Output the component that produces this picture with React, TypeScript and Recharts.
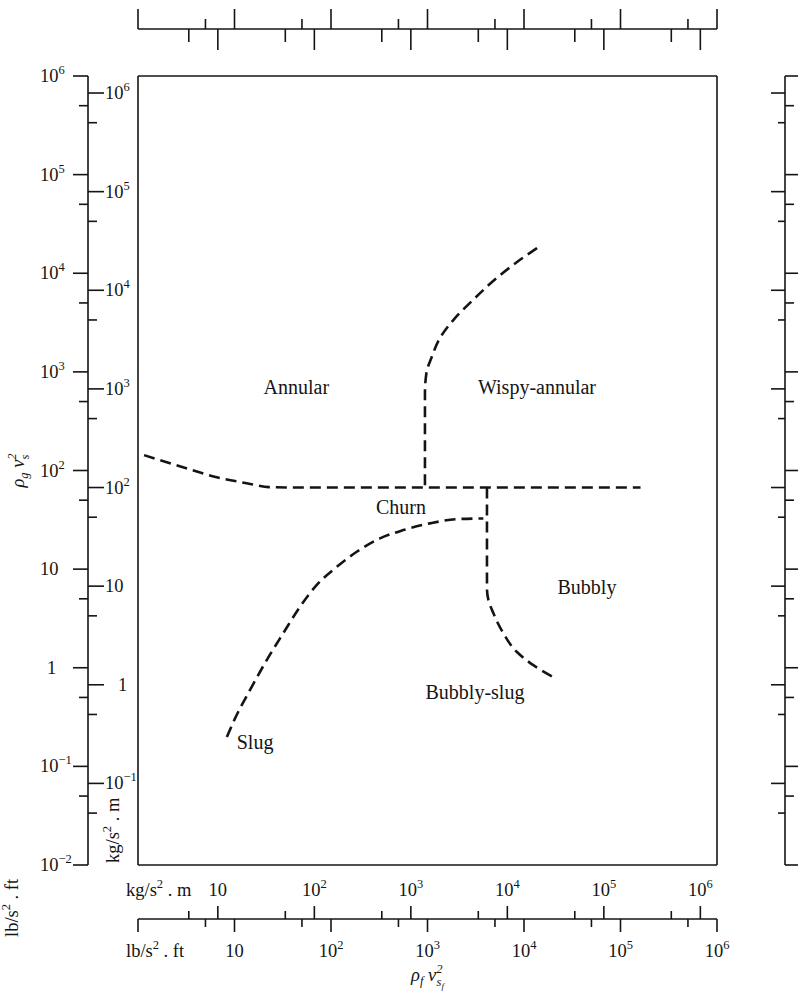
import React from 'react';
import { ComposedChart, Line, Scatter, XAxis, YAxis } from 'recharts';

// 1 lb/s².ft expressed in kg/s².m
const LB = 1.488;

const xDecades = [0, 1, 2, 3, 4, 5, 6];
const yDecades = [-2, -1, 0, 1, 2, 3, 4, 5, 6];

// flow regime boundaries, all in kg/s².m
const annularX = [1.72, 3.7, 9.5, 20.5, 34, 60, 240000];
const annularY = [213, 169, 128, 110, 101, 100, 100];

const wispyX = [20300, 12200, 7330, 4400, 2870, 2040, 1650, 1450, 1400, 1400];
const wispyY = [26800, 18900, 12700, 7960, 5230, 3380, 2120, 1450, 900, 100];

const slugX = [12.4, 15.1, 21.5, 32.1, 47.7, 71, 106, 171, 275, 479, 835, 1580, 2990, 5640];
const slugY = [0.296, 0.458, 0.883, 1.78, 3.34, 6.17, 10.3, 15.7, 22.3, 30.5, 37, 43.3, 47.8, 48.6];

const bubblyX = [6150, 6150, 6350, 7160, 9080, 12500, 18600, 31200];
const bubblyY = [100, 9.5, 7.3, 5.33, 3.34, 2.16, 1.58, 1.17];

const regionNames = ['Annular', 'Wispy-annular', 'Churn', 'Bubbly', 'Bubbly-slug', 'Slug'];
const regionX = [65, 20300, 790, 66900, 4620, 24.3];
const regionY = [1040, 1040, 63, 9.8, 0.84, 0.262];

const zip = (xs: number[], ys: number[]) => xs.map((x, i) => ({ x, y: ys[i] }));
const annular = zip(annularX, annularY);
const wispy = zip(wispyX, wispyY);
const slug = zip(slugX, slugY);
const bubbly = zip(bubblyX, bubblyY);
const regions = regionNames.map((name, i) => ({ name, x: regionX[i], y: regionY[i] }));

const X_DOMAIN: [number, number] = [LB * 10 ** xDecades[0], LB * 10 ** xDecades[xDecades.length - 1]];
const Y_DOMAIN: [number, number] = [LB * 10 ** yDecades[0], LB * 10 ** yDecades[yDecades.length - 1]];

const inside = (d: [number, number]) => (v: number) => v >= d[0] * 0.9999 && v <= d[1] * 1.0001;
const allTicks = (decades: number[], d: [number, number]) =>
  decades
    .flatMap((e) => [10 ** e, 5 * 10 ** e, LB * 10 ** e, 5 * LB * 10 ** e])
    .filter(inside(d))
    .sort((a, b) => a - b);

const xTicks = allTicks(xDecades, X_DOMAIN);
const yTicks = allTicks(yDecades, Y_DOMAIN);

const INK = '#141414';
const FONT = '"Liberation Serif", "Times New Roman", serif';
const AXIS = { stroke: INK, strokeWidth: 1.6 };

// which scale a tick belongs to (kg or lb), and whether it is a decade
const kindOf = (v: number) => {
  const l = Math.log10(v);
  const f = l - Math.floor(l + 1e-6);
  if (Math.abs(f) < 0.05) return { kg: true, major: true, exp: Math.round(l) };
  if (Math.abs(f - Math.log10(LB)) < 0.05) return { kg: false, major: true, exp: Math.round(l - Math.log10(LB)) };
  if (Math.abs(f - Math.log10(5)) < 0.05) return { kg: true, major: false, exp: 0 };
  return { kg: false, major: false, exp: 0 };
};

const Pow = ({ e }: { e: number }) => {
  if (e === 0) return <tspan>1</tspan>;
  if (e === 1) return <tspan>10</tspan>;
  return (
    <>
      <tspan>10</tspan>
      <tspan dy={-8} fontSize={12.5}>
        {e < 0 ? `\u2212${-e}` : e}
      </tspan>
    </>
  );
};

const txt = { fill: INK, fontFamily: FONT, fontSize: 18.5 };
const ln = { stroke: INK, strokeWidth: 1.6 };

const LeftTick = ({ x, y, payload }: any) => {
  const t = kindOf(payload.value);
  if (!t.kg) {
    return (
      <g>
        <line x1={x - (t.major ? 15 : 9)} x2={x} y1={y} y2={y} {...ln} />
        {t.major && (
          <text x={x - (t.exp === 0 ? 41 : 48)} y={y + 6} {...txt}>
            <Pow e={t.exp} />
          </text>
        )}
      </g>
    );
  }
  return (
    <g>
      <line x1={x} x2={x + (t.major ? 16 : 9)} y1={y} y2={y} {...ln} />
      {t.major && (
        <text x={x + (t.exp === 0 ? 30 : 17)} y={y + 6} {...txt}>
          <Pow e={t.exp} />
        </text>
      )}
    </g>
  );
};

const RightTick = ({ x, y, payload }: any) => {
  const t = kindOf(payload.value);
  return t.kg ? (
    <line x1={x - (t.major ? 14 : 7)} x2={x} y1={y} y2={y} {...ln} />
  ) : (
    <line x1={x} x2={x + (t.major ? 13 : 9)} y1={y} y2={y} {...ln} />
  );
};

const TopTick = ({ x, y, payload }: any) => {
  const t = kindOf(payload.value);
  return t.kg ? (
    <line x1={x} x2={x} y1={y} y2={y + (t.major ? 21 : 13)} {...ln} />
  ) : (
    <line x1={x} x2={x} y1={y - (t.major ? 20 : 10)} y2={y} {...ln} />
  );
};

const BottomTick = ({ x, y, payload }: any) => {
  const t = kindOf(payload.value);
  if (t.kg) {
    return (
      <g>
        <line x1={x} x2={x} y1={y - (t.major ? 13 : 8)} y2={y} {...ln} />
        {t.major && (
          <text x={x} y={y - 23} textAnchor="middle" {...txt}>
            <Pow e={t.exp} />
          </text>
        )}
      </g>
    );
  }
  return (
    <g>
      <line x1={x} x2={x} y1={y} y2={y + (t.major ? 13 : 8)} {...ln} />
      {t.major && t.exp > 0 && (
        <text x={x} y={y + 38} textAnchor="middle" {...txt}>
          <Pow e={t.exp} />
        </text>
      )}
    </g>
  );
};

const BottomTitles = (props: any) => {
  const vb = props.viewBox ?? { x: 138, y: 919, width: 579, height: 78 };
  return (
    <g>
      <text x={vb.x - 12} y={vb.y - 23} {...txt}>
        kg/s<tspan dy={-8} fontSize={12.5}>2</tspan>
        <tspan dy={8}> . m</tspan>
      </text>
      <text x={vb.x - 12} y={vb.y + 38} {...txt}>
        lb/s<tspan dy={-8} fontSize={12.5}>2</tspan>
        <tspan dy={8}> . ft</tspan>
      </text>
      <text x={vb.x + vb.width / 2} y={vb.y + 62} textAnchor="middle" {...txt} fontStyle="italic">
        ρ<tspan dy={4} fontSize={12.5}>f</tspan>
        <tspan dy={-4}> v</tspan>
        <tspan dy={-8} fontSize={12.5}>2</tspan>
        <tspan dx={-6} dy={13} fontSize={12.5}>s</tspan>
        <tspan dy={3} fontSize={9}>f</tspan>
      </text>
    </g>
  );
};

const LeftTitles = (props: any) => {
  const vb = props.viewBox ?? { x: 0, y: 76, width: 88, height: 789 };
  const midY = vb.y + vb.height / 2;
  const bottom = vb.y + vb.height;
  return (
    <g>
      <text transform={`translate(24, ${midY}) rotate(-90)`} textAnchor="middle" {...txt} fontStyle="italic">
        ρ<tspan dy={4} fontSize={12.5}>g</tspan>
        <tspan dy={-4}> v</tspan>
        <tspan dy={-8} fontSize={12.5}>2</tspan>
        <tspan dx={-6} dy={13} fontSize={12.5}>s</tspan>
      </text>
      <text transform={`translate(${vb.x + vb.width + 31}, ${bottom - 2}) rotate(-90)`} {...txt}>
        kg/s<tspan dy={-8} fontSize={12.5}>2</tspan>
        <tspan dy={8}> . m</tspan>
      </text>
      <text transform={`translate(18, ${bottom + 72}) rotate(-90)`} {...txt}>
        lb/s<tspan dy={-8} fontSize={12.5}>2</tspan>
        <tspan dy={8}> . ft</tspan>
      </text>
    </g>
  );
};

const RegionText = ({ cx, cy, payload }: any) => (
  <text x={cx} y={cy} textAnchor="middle" dominantBaseline="central" fill={INK} fontFamily={FONT} fontSize={20}>
    {payload.name}
  </text>
);

// the series sit on the outer bottom axis so that its ticks are computed from data
const dash = {
  stroke: INK,
  strokeWidth: 2.6,
  strokeDasharray: '11 6',
  dot: false,
  activeDot: false,
  isAnimationActive: false,
  xAxisId: 'lbBottom',
  yAxisId: 'kgY',
  dataKey: 'y',
};

export default function App() {
  return (
    <div style={{ position: 'absolute', left: 0, top: 0, background: '#fff' }}>
      <ComposedChart width={799} height={997} margin={{ top: 0, right: 0, bottom: 0, left: 0 }}>
        <XAxis xAxisId="kgX" dataKey="x" type="number" scale="log" domain={X_DOMAIN} allowDataOverflow
          orientation="bottom" height={54} tick={false} tickLine={false} axisLine={AXIS} />
        <XAxis xAxisId="lbBottom" dataKey="x" type="number" scale="log" domain={X_DOMAIN} allowDataOverflow
          orientation="bottom" height={78} ticks={xTicks} interval={0} tickSize={0} tickMargin={0}
          tickLine={false} tick={BottomTick} axisLine={AXIS} label={BottomTitles} />
        <XAxis xAxisId="boxTop" dataKey="x" type="number" scale="log" domain={X_DOMAIN} allowDataOverflow
          orientation="top" height={47} tick={false} tickLine={false} axisLine={AXIS} />
        <XAxis xAxisId="lbTop" dataKey="x" type="number" scale="log" domain={X_DOMAIN} allowDataOverflow
          orientation="top" height={29} ticks={xTicks} interval={0} tickSize={0} tickMargin={0}
          tickLine={false} tick={TopTick} axisLine={AXIS} />
        <YAxis yAxisId="kgY" dataKey="y" type="number" scale="log" domain={Y_DOMAIN} allowDataOverflow
          orientation="left" width={50} tick={false} tickLine={false} axisLine={AXIS} />
        <YAxis yAxisId="lbLeft" type="number" scale="log" domain={Y_DOMAIN} allowDataOverflow
          orientation="left" width={88} ticks={yTicks} interval={0} tickSize={0} tickMargin={0}
          tickLine={false} tick={LeftTick} axisLine={AXIS} label={LeftTitles} />
        <YAxis yAxisId="boxRight" type="number" scale="log" domain={Y_DOMAIN} allowDataOverflow
          orientation="right" width={68} tick={false} tickLine={false} axisLine={AXIS} />
        <YAxis yAxisId="lbRight" type="number" scale="log" domain={Y_DOMAIN} allowDataOverflow
          orientation="right" width={14} ticks={yTicks} interval={0} tickSize={0} tickMargin={0}
          tickLine={false} tick={RightTick} axisLine={AXIS} />

        <Line {...dash} data={annular} type="monotone" />
        <Line {...dash} data={wispy} type="monotoneY" />
        <Line {...dash} data={slug} type="monotone" />
        <Line {...dash} data={bubbly} type="monotoneY" />
        <Scatter data={regions} xAxisId="lbTop" yAxisId="kgY" dataKey="y" shape={RegionText}
          isAnimationActive={false} />
      </ComposedChart>
    </div>
  );
}
